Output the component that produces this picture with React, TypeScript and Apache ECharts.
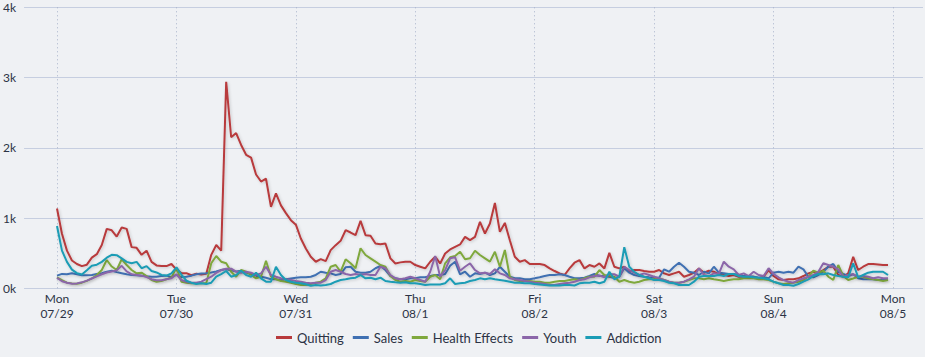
import React, { useEffect, useRef } from "react";
import * as echarts from "echarts";

const DAY_NAMES = ["Mon", "Tue", "Wed", "Thu", "Fri", "Sat", "Sun", "Mon"];
const DAY_DATES = ["07/29", "07/30", "07/31", "08/1", "08/2", "08/3", "08/4", "08/5"];
const Y_TICKS = ["0k", "1k", "2k", "3k", "4k"];

const SERIES_NAMES = ["Quitting", "Sales", "Health Effects", "Youth", "Addiction"];
const SERIES_COLORS = ["#b83a3c", "#3f70b2", "#7fa83d", "#8b66a9", "#1b9cb5"];

// hourly values, Mon 07/29 00:00 .. Sun 08/4 23:00
const quitting = [
  1136, 776, 536, 396, 346, 316, 336, 436, 486, 616, 846, 826, 736, 866, 846, 586, 576, 476, 536, 376, 326, 316, 316, 346,
  266, 216, 216, 186, 206, 196, 206, 476, 616, 536, 2940, 2150, 2210, 2040, 1900, 1860, 1620, 1520, 1560, 1160, 1350, 1180, 1070, 970,
  906, 709, 567, 448, 378, 416, 387, 543, 614, 676, 827, 794, 756, 959, 756, 747, 638, 628, 638, 426, 354, 369, 378, 378,
  331, 307, 283, 378, 448, 354, 496, 553, 590, 624, 732, 685, 732, 945, 780, 922, 1214, 803, 931, 685, 448, 378, 401, 345,
  345, 345, 331, 283, 246, 213, 189, 283, 364, 401, 283, 331, 307, 354, 283, 505, 307, 283, 307, 236, 260, 260, 246, 236,
  236, 260, 213, 189, 213, 236, 165, 189, 222, 283, 222, 250, 236, 203, 189, 175, 189, 165, 165, 156, 165, 142, 165, 260,
  175, 128, 118, 128, 128, 142, 175, 213, 236, 222, 260, 307, 307, 189, 165, 213, 448, 260, 307, 345, 345, 340, 331, 331,
];
const sales = [
  180, 205, 200, 215, 200, 185, 185, 190, 205, 215, 235, 250, 230, 215, 200, 190, 185, 180, 170, 165, 165, 175, 180, 160,
  190, 160, 165, 180, 200, 210, 215, 225, 240, 260, 270, 255, 240, 250, 225, 205, 180, 165, 150, 130, 128, 118, 128, 140,
  150, 156, 156, 165, 190, 236, 222, 213, 189, 204, 299, 307, 236, 222, 222, 236, 285, 317, 260, 175, 142, 128, 128, 142,
  142, 157, 157, 175, 189, 189, 204, 320, 379, 199, 236, 165, 213, 204, 222, 189, 213, 307, 236, 165, 142, 142, 128, 128,
  142, 157, 175, 189, 189, 199, 189, 165, 142, 142, 151, 175, 204, 175, 175, 165, 145, 165, 285, 222, 189, 175, 165, 157,
  151, 151, 270, 236, 307, 364, 307, 236, 222, 189, 236, 213, 307, 222, 213, 204, 204, 189, 175, 175, 165, 151, 157, 142,
  222, 236, 222, 236, 222, 307, 270, 165, 157, 189, 236, 307, 346, 236, 204, 175, 200, 142, 128, 128, 128, 118, 118, 118,
];
const healthEffects = [
  155, 115, 80, 70, 65, 80, 105, 140, 189, 260, 403, 310, 260, 413, 332, 260, 213, 222, 175, 118, 94, 104, 128, 156,
  293, 94, 80, 71, 71, 71, 71, 356, 460, 379, 356, 236, 165, 260, 236, 189, 142, 165, 393, 165, 128, 104, 94, 80,
  61, 47, 47, 61, 80, 94, 142, 307, 332, 236, 413, 356, 285, 569, 474, 427, 379, 332, 307, 175, 118, 94, 104, 94,
  118, 104, 94, 165, 189, 128, 356, 441, 460, 521, 413, 427, 535, 474, 427, 379, 521, 307, 545, 165, 118, 104, 104, 104,
  94, 94, 80, 80, 94, 104, 104, 118, 128, 118, 142, 165, 165, 260, 190, 175, 165, 94, 118, 94, 80, 94, 118, 128,
  128, 142, 118, 94, 80, 80, 94, 118, 142, 142, 128, 142, 128, 118, 104, 118, 128, 128, 142, 142, 142, 128, 128, 118,
  94, 71, 61, 71, 80, 94, 118, 165, 250, 222, 250, 165, 118, 332, 175, 118, 140, 165, 165, 142, 128, 118, 104, 118,
];
const youth = [
  150, 100, 80, 65, 70, 85, 110, 140, 170, 200, 225, 240, 255, 320, 240, 200, 190, 180, 160, 130, 115, 115, 130, 142,
  200, 118, 94, 80, 80, 94, 130, 165, 220, 260, 280, 280, 236, 222, 236, 222, 189, 213, 307, 189, 165, 142, 128, 118,
  104, 94, 80, 71, 80, 80, 118, 236, 260, 236, 204, 189, 204, 189, 204, 189, 189, 307, 285, 189, 142, 128, 142, 165,
  142, 118, 94, 236, 460, 165, 260, 427, 441, 250, 307, 356, 260, 213, 222, 204, 270, 213, 189, 142, 128, 118, 104, 94,
  80, 71, 61, 47, 47, 61, 71, 80, 94, 118, 128, 156, 175, 182, 158, 200, 200, 165, 307, 260, 222, 189, 213, 189,
  165, 142, 118, 94, 80, 80, 94, 128, 165, 285, 189, 175, 213, 204, 379, 307, 270, 189, 213, 175, 236, 189, 175, 285,
  204, 157, 118, 94, 80, 118, 142, 165, 189, 236, 356, 332, 307, 270, 165, 189, 200, 165, 175, 165, 142, 157, 142, 142,
];
const addiction = [
  886, 536, 376, 266, 216, 196, 256, 321, 336, 376, 436, 476, 471, 426, 376, 356, 376, 286, 316, 246, 226, 191, 181, 213,
  298, 196, 108, 80, 61, 71, 61, 80, 165, 203, 246, 165, 189, 250, 189, 165, 222, 142, 94, 94, 307, 189, 118, 94,
  80, 71, 57, 37, 47, 40, 47, 61, 94, 118, 128, 142, 151, 189, 142, 151, 128, 151, 104, 94, 85, 80, 85, 71,
  71, 61, 47, 54, 54, 54, 71, 142, 61, 71, 80, 104, 118, 142, 128, 142, 128, 118, 108, 94, 80, 80, 71, 71,
  61, 54, 47, 40, 40, 40, 47, 47, 40, 71, 80, 80, 94, 71, 94, 236, 128, 165, 584, 307, 236, 189, 165, 142,
  118, 118, 104, 80, 71, 47, 47, 47, 94, 165, 175, 175, 175, 189, 175, 204, 204, 175, 165, 165, 156, 151, 142, 128,
  94, 71, 47, 47, 37, 61, 94, 128, 175, 204, 199, 213, 189, 175, 165, 156, 356, 156, 189, 222, 236, 236, 236, 189,
];

const SERIES_VALUES = [quitting, sales, healthEffects, youth, addiction];

const FONT = "Lato, 'Open Sans', sans-serif";
const TEXT_COLOR = "#2c3345";
const BG = "#eff1f4";

export default function App() {
  const ref = useRef<HTMLDivElement>(null);

  useEffect(() => {
    document.body.style.margin = "0";
    if (!ref.current) return;
    const chart = echarts.init(ref.current, null, { renderer: "svg" });

    const top = 7.3;
    const bottom = 357 - 288.3;

    const option: any = {
      animation: false,
      backgroundColor: BG,
      textStyle: { fontFamily: FONT },
      legend: {
        left: 276,
        top: 331,
        padding: 0,
        itemWidth: 16,
        itemHeight: 3,
        itemGap: 9,
        icon: "rect",
        textStyle: { color: TEXT_COLOR, fontSize: 13, fontFamily: FONT },
        data: SERIES_NAMES,
      },
      grid: [
        { left: 57, right: 32, top, bottom },
        { left: 24, right: 2, top, bottom },
      ],
      xAxis: [
        {
          type: "value",
          gridIndex: 0,
          min: 0,
          max: 168,
          interval: 24,
          axisLine: { show: false },
          axisTick: { show: false },
          splitLine: {
            show: true,
            lineStyle: { color: "#a9b3ca", type: [1, 3], width: 1 },
          },
          axisLabel: {
            margin: 3,
            color: TEXT_COLOR,
            fontSize: 12,
            lineHeight: 15,
            fontFamily: FONT,
            formatter: (v: number) => {
              const i = Math.round(v / 24);
              return DAY_NAMES[i] + "\n" + DAY_DATES[i];
            },
          },
        },
        {
          type: "value",
          gridIndex: 1,
          min: 0,
          max: 1,
          show: false,
        },
      ],
      yAxis: [
        {
          type: "value",
          gridIndex: 0,
          min: 0,
          max: 4000,
          show: false,
          splitLine: { show: false },
        },
        {
          type: "value",
          gridIndex: 1,
          min: 0,
          max: 4000,
          interval: 1000,
          axisLine: { show: false },
          axisTick: { show: false },
          splitLine: { show: true, lineStyle: { color: "#c6cee0", width: 1 } },
          axisLabel: {
            margin: 8,
            color: TEXT_COLOR,
            fontSize: 12,
            fontFamily: FONT,
            padding: [3, 0, 0, 0],
            formatter: (v: number) => Y_TICKS[Math.round(v / 1000)],
          },
        },
      ],
      series: SERIES_NAMES.map((name, i) => ({
        name,
        type: "line",
        xAxisIndex: 0,
        yAxisIndex: 0,
        showSymbol: false,
        symbol: "none",
        color: SERIES_COLORS[i],
        lineStyle: {
          width: 2,
          color: SERIES_COLORS[i],
          shadowColor: "rgba(0,0,0,0.18)",
          shadowBlur: 3,
          shadowOffsetX: 1,
          shadowOffsetY: 1,
        },
        data: SERIES_VALUES[i].map((v, h) => [h, v]),
      })),
    };

    chart.setOption(option);
    return () => chart.dispose();
  }, []);

  return <div ref={ref} style={{ width: 925, height: 357, background: BG }} />;
}
